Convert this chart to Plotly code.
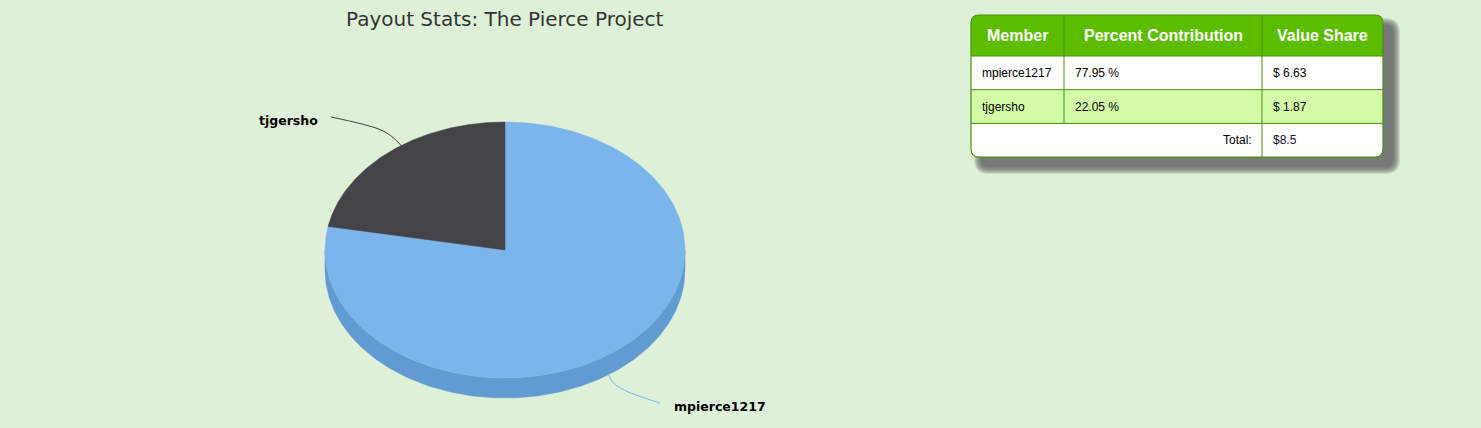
import numpy as np
import plotly.graph_objects as go

# ---------------- data ----------------
chart_title = "Payout Stats: The Pierce Project"
members = ["mpierce1217", "tjgersho"]
percents = [77.95, 22.05]
value_share = [6.63, 1.87]
total_value = 8.5
table_header = ["Member", "Percent Contribution", "Value Share"]
total_label = "Total:"

# ---------------- styles ----------------
W, H = 1481, 428
BG = "#dff0d8"
top_colors = ["#7cb5ec", "#434348"]
side_colors = ["#629bd2", "#2b2b30"]
connector_colors = ["#7cb5ec", "#434348"]
HEADER_GREEN = "#5cbd00"
BORDER_GREEN = "#4b8e14"
ROW_ALT = "#d3fca8"

# pie geometry (pixel space)
cx, cy, rx, ry, depth = 505, 250, 180, 128, 20

fig = go.Figure()


def pt(theta_deg, dy=0.0):
    t = np.radians(theta_deg)
    return cx + rx * np.sin(t), cy - ry * np.cos(t) + dy


fractions = np.array(percents) / sum(percents)
bounds = np.concatenate([[0.0], np.cumsum(fractions) * 360.0])

# side walls (front half only)
for i, m in enumerate(members):
    a0, a1 = bounds[i], bounds[i + 1]
    s0, s1 = max(a0, 90.0), min(a1, 270.0)
    if s1 > s0:
        th = np.linspace(s0, s1, 200)
        xt, yt = pt(th)
        xb, yb = pt(th[::-1], depth)
        fig.add_trace(go.Scatter(
            x=np.concatenate([xt, xb, xt[:1]]), y=np.concatenate([yt, yb, yt[:1]]),
            mode="lines", fill="toself", fillcolor=side_colors[i],
            line=dict(width=0.5, color=side_colors[i]),
            hoverinfo="skip", showlegend=False))

# top faces
for i, m in enumerate(members):
    a0, a1 = bounds[i], bounds[i + 1]
    th = np.linspace(a0, a1, 300)
    xs, ys = pt(th)
    fig.add_trace(go.Scatter(
        x=np.concatenate([[cx], xs, [cx]]), y=np.concatenate([[cy], ys, [cy]]),
        mode="lines", fill="toself", fillcolor=top_colors[i],
        line=dict(width=0.5, color=top_colors[i]),
        name=m, hoverinfo="name", showlegend=False))

# connectors + data labels
label_pos = {"mpierce1217": (660, 403, "left"), "tjgersho": (331, 117, "right")}
for i, m in enumerate(members):
    mid = (bounds[i] + bounds[i + 1]) / 2
    front = np.cos(np.radians(mid)) < 0
    ax_, ay_ = pt(mid, depth if front else 0)
    lx, ly, side = label_pos[m]
    if front:
        pts_x = [ax_ - 12, ax_ - 7, ax_ + 5, lx]
        pts_y = [ay_ + 5, ay_ + 14, ay_ + 22, ly]
    else:
        pts_x = [ax_ + 12, ax_ + 3, ax_ - 10, lx]
        pts_y = [ay_ - 5, ay_ - 14, ay_ - 22, ly]
    fig.add_trace(go.Scatter(x=pts_x, y=pts_y, mode="lines",
                             line=dict(color=connector_colors[i], width=1, shape="spline"),
                             hoverinfo="skip", showlegend=False))
    fig.add_annotation(x=lx + (12 if side == "left" else -11), y=ly + 3, text="<b>%s</b>" % m,
                       showarrow=False, xanchor=side, yanchor="middle",
                       font=dict(family="DejaVu Sans", size=12.5, color="#000000"))

# title
fig.add_annotation(x=505, y=19, text=chart_title, showarrow=False, xanchor="center", yanchor="middle",
                   font=dict(family="DejaVu Sans", size=20, color="#333333"))

# ---------------- table ----------------
tx0, tx1, ty0 = 971, 1383, 15
col_w = [93, 198, 121]
header_h = 41
row_h = 33.7
n_rows = len(members) + 1
ty1 = ty0 + header_h + row_h * n_rows
col_x = np.concatenate([[tx0], tx0 + np.cumsum(col_w)])
row_y = np.concatenate([[ty0 + header_h], ty0 + header_h + row_h * np.arange(1, n_rows + 1)])
rad = 8


def rrect(x0, y0, x1, y1, r, top=True, bottom=True):
    rt = r if top else 0
    rb = r if bottom else 0
    return (f"M {x0 + rt},{y0} L {x1 - rt},{y0} Q {x1},{y0} {x1},{y0 + rt} "
            f"L {x1},{y1 - rb} Q {x1},{y1} {x1 - rb},{y1} L {x0 + rb},{y1} Q {x0},{y1} {x0},{y1 - rb} "
            f"L {x0},{y0 + rt} Q {x0},{y0} {x0 + rt},{y0} Z")


shapes = []
# soft shadow
for k in range(8):
    e = 7 - k
    shapes.append(dict(type="path", xref="x", yref="y", layer="below",
                       path=rrect(tx0 + 10 - e, ty0 + 10 - e, tx1 + 10 + e, ty1 + 10 + e, rad + e),
                       fillcolor="rgba(90,90,90,0.17)", line=dict(width=0)))
# body
shapes.append(dict(type="path", xref="x", yref="y", layer="below",
                   path=rrect(tx0, ty0, tx1, ty1, rad), fillcolor="#ffffff", line=dict(width=0)))
# header
shapes.append(dict(type="path", xref="x", yref="y", layer="below",
                   path=rrect(tx0, ty0, tx1, ty0 + header_h, rad, bottom=False),
                   fillcolor=HEADER_GREEN, line=dict(width=0)))
# alternate rows
for r in range(len(members)):
    if r % 2 == 1:
        shapes.append(dict(type="rect", xref="x", yref="y", layer="below",
                           x0=tx0, x1=tx1, y0=row_y[r], y1=row_y[r + 1],
                           fillcolor=ROW_ALT, line=dict(width=0)))
# horizontal grid lines
for r in range(n_rows):
    shapes.append(dict(type="line", xref="x", yref="y", layer="below",
                       x0=tx0, x1=tx1, y0=row_y[r], y1=row_y[r],
                       line=dict(color=BORDER_GREEN, width=1)))
# vertical grid lines
shapes.append(dict(type="line", xref="x", yref="y", layer="below",
                   x0=col_x[1], x1=col_x[1], y0=ty0, y1=row_y[len(members)],
                   line=dict(color=BORDER_GREEN, width=1)))
shapes.append(dict(type="line", xref="x", yref="y", layer="below",
                   x0=col_x[2], x1=col_x[2], y0=ty0, y1=ty1,
                   line=dict(color=BORDER_GREEN, width=1)))
# outer border
shapes.append(dict(type="path", xref="x", yref="y", layer="below",
                   path=rrect(tx0, ty0, tx1, ty1, rad), fillcolor="rgba(0,0,0,0)",
                   line=dict(color=BORDER_GREEN, width=1.2)))

TFONT = "Liberation Sans, Arial, sans-serif"
# header text
for c, h in enumerate(table_header):
    fig.add_annotation(x=(col_x[c] + col_x[c + 1]) / 2, y=ty0 + header_h / 2, text="<b>%s</b>" % h,
                       showarrow=False, xanchor="center", yanchor="middle",
                       font=dict(family=TFONT, size=16, color="#ffffff"))
# body rows
for r, m in enumerate(members):
    yc = (row_y[r] + row_y[r + 1]) / 2
    cells = [m, f"{percents[r]:.2f} %", f"$ {value_share[r]:.2f}"]
    for c, t in enumerate(cells):
        fig.add_annotation(x=col_x[c] + 8.5, y=yc, text=t, showarrow=False, xanchor="left",
                           yanchor="middle", font=dict(family=TFONT, size=12, color="#000000"))
yc = (row_y[n_rows - 1] + row_y[n_rows]) / 2
fig.add_annotation(x=col_x[2] - 8, y=yc, text=total_label, showarrow=False, xanchor="right",
                   yanchor="middle", font=dict(family=TFONT, size=12, color="#000000"))
fig.add_annotation(x=col_x[2] + 8.5, y=yc, text=f"${total_value:g}", showarrow=False, xanchor="left",
                   yanchor="middle", font=dict(family=TFONT, size=12, color="#101030"))

fig.update_layout(
    width=W, height=H, margin=dict(l=0, r=0, t=0, b=0),
    paper_bgcolor=BG, plot_bgcolor=BG, shapes=shapes,
    xaxis=dict(range=[0, W], visible=False, fixedrange=True, domain=[0, 1]),
    yaxis=dict(range=[H, 0], visible=False, fixedrange=True, domain=[0, 1]),
    showlegend=False,
)

fig.write_html("out.html", include_plotlyjs=True, config={"displayModeBar": False},
               post_script="document.body.style.margin='0';document.body.style.overflow='hidden';")
